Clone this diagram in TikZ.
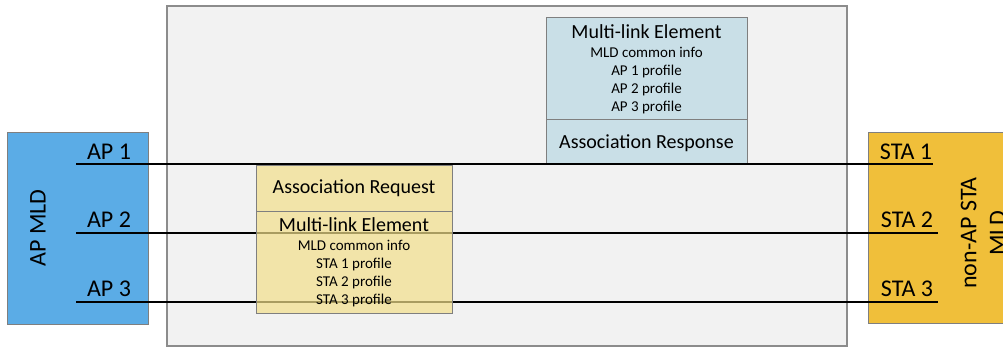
\documentclass[tikz,border=0pt]{standalone}
\usepackage{fontspec}
\setmainfont{Carlito}
\definecolor{bggray}{HTML}{F2F2F2}
\definecolor{bgedge}{HTML}{8C8C8C}
\definecolor{apblue}{HTML}{5BACE6}
\definecolor{stayellow}{HTML}{F0BF3A}
\definecolor{respblue}{HTML}{C9DFE7}
\definecolor{reqyellow}{HTML}{F2DF8B}
\definecolor{boxedge}{HTML}{7F7F7F}
\begin{document}
\begin{tikzpicture}[x=1pt,y=-1pt,
  box/.style={draw=boxedge, line width=0.8pt, inner sep=0pt, outer sep=0pt, anchor=north west},
  link/.style={line width=1.5pt, black},
  biglabel/.style={font=\fontsize{24}{29}\selectfont, inner sep=0pt},
  head/.style={font=\fontsize{20}{24}\selectfont, inner sep=0pt},
  small/.style={font=\fontsize{15}{18}\selectfont, inner sep=0pt, align=center}]
\useasboundingbox (0,0) rectangle (1003,348);
\clip (0,0) rectangle (1003,348);
% background frame
\node (frame) [box, draw=bgedge, line width=1.2pt, fill=bggray, minimum width=680, minimum height=340] at (167,6) {};
% MLD boxes
\node (apmld) [box, fill=apblue, minimum width=141, minimum height=192] at (7,132) {};
\node (stamld) [box, fill=stayellow, minimum width=150, minimum height=191] at (868,132) {};
\node (apmldtext) [biglabel, rotate=90] at (38,228) {AP MLD};
\node (stamldtext) [biglabel, rotate=90, align=center] at (983,233) {non-AP STA\\MLD};
% association response
\node (resp) [box, fill=respblue, minimum width=201, minimum height=147] at (546,17) {};
\draw[boxedge, line width=0.8pt] (546,119) -- (747,119);
\node (resphead) [head] at (646.5,32) {Multi-link Element};
\node (respbody) [small] at (646.5,81) {MLD common info\\AP 1 profile\\AP 2 profile\\AP 3 profile};
\node (resptitle) [head] at (646.5,143) {Association Response};
% link end points
\coordinate (ap1) at (76,164);
\coordinate (ap2) at (76,233);
\coordinate (ap3) at (76,302);
\coordinate (sta1) at (933,164);
\coordinate (sta2) at (938,233);
\coordinate (sta3) at (938,302);
\draw[link] (ap1) -- (sta1);
\draw[link] (ap2) -- (sta2);
\draw[link] (ap3) -- (sta3);
% labels
\node (ap1l) [biglabel] at (109,152) {AP 1};
\node (ap2l) [biglabel] at (109,220) {AP 2};
\node (ap3l) [biglabel] at (109,289) {AP 3};
\node (sta1l) [biglabel] at (906,152) {STA 1};
\node (sta2l) [biglabel] at (907,220) {STA 2};
\node (sta3l) [biglabel] at (907,289) {STA 3};
% association request (semi-transparent)
\node (req) [box, fill=reqyellow, fill opacity=0.7, minimum width=196, minimum height=148] at (256,165) {};
\draw[boxedge, line width=0.8pt] (256,211) -- (452,211);
\node (reqtitle) [head] at (354,188) {Association Request};
\node (reqhead) [head] at (354,225) {Multi-link Element};
\node (reqbody) [small] at (354,274) {MLD common info\\STA 1 profile\\STA 2 profile\\STA 3 profile};
\end{tikzpicture}
\end{document}
